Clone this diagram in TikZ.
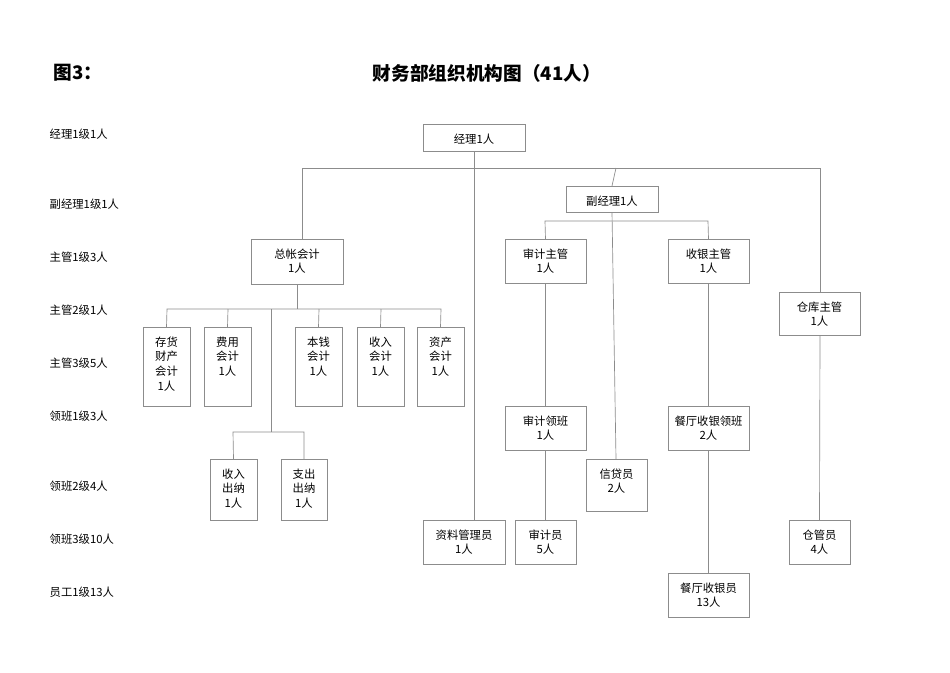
\documentclass[tikz,border=0pt]{standalone}
\usepackage{fontspec}
\setmainfont{Noto Sans CJK SC}
\begin{document}
\begin{tikzpicture}[x=0.75pt,y=-0.75pt,
  bx/.style={draw=black!45,line width=0.5pt,inner sep=0pt},
  ln/.style={draw=black!45,line width=0.5pt},
  tx/.style={font=\fontsize{8.5}{11}\selectfont,align=center,anchor=north},
  lb/.style={font=\fontsize{8.5}{11}\selectfont,anchor=west}]
\fill[white] (0,0) rectangle (950,672);
\useasboundingbox (0,0) rectangle (950,672);
\node[anchor=west,font=\fontsize{14}{16}\selectfont\bfseries] (fig) at (49,73) {图3：};
\node[font=\fontsize{14}{16}\selectfont\bfseries] (title) at (487,73) {财务部组织机构图（41人）};
\foreach \t/\y [count=\i] in {经理1级1人/134,副经理1级1人/204,主管1级3人/257,主管2级1人/310,主管3级5人/363,领班1级3人/416,领班2级4人/486,领班3级10人/539,员工1级13人/592}
  \node[lb] (L\i) at (45,\y) {\t};
% boxes: name/x1/y1/x2/y2/text
\foreach \n/\a/\b/\c/\d/\t in {
 jl/423/124/525/151/经理1人,
 fjl/566/186/658/212/副经理1人,
 zz/251/239/343/284/总帐会计\\1人,
 sjzg/505/239/586/283/审计主管\\1人,
 syzg/668/239/749/283/收银主管\\1人,
 ckzg/779/292/860/335/仓库主管\\1人,
 ch/143/327/190/406/存货\\财产\\会计\\1人,
 fy/204/327/251/406/费用\\会计\\1人,
 bq/295/327/342/406/本钱\\会计\\1人,
 srkj/357/327/404/406/收入\\会计\\1人,
 zc/417/327/464/406/资产\\会计\\1人,
 sjlb/505/406/586/450/审计领班\\1人,
 ctlb/668/406/749/450/餐厅收银领班\\2人,
 srcn/210/459/257/520/收入\\出纳\\1人,
 zccn/281/459/327/520/支出\\出纳\\1人,
 xdy/586/459/647/511/信贷员\\2人,
 zlgl/423/520/505/564/资料管理员\\1人,
 sjy/515/520/576/564/审计员\\5人,
 cgy/789/520/850/564/仓管员\\4人,
 ctsy/668/573/749/617/餐厅收银员\\13人}{
 \path[bx] (\a,\b) rectangle (\c,\d);
 \node[tx] (\n) at ({(\a+\c)/2},{\b+5}) {\t};
 \coordinate (\n-t) at ({(\a+\c)/2},\b);
 \coordinate (\n-b) at ({(\a+\c)/2},\d);
}
% connectors
\draw[ln] (474,151) -- (474,520);
\draw[ln] (302,239) -- (302,168) -- (820,168) -- (820,292);
\draw[ln] (820,335) -- (cgy-t);
\draw[ln] (616,168) -- (fjl-t);
\draw[ln] (fjl-b) -- (616,459);
\draw[ln] (sjzg-t) -- (545,221) -- (708,221) -- (syzg-t);
\draw[ln] (sjzg-b) -- (sjlb-t);
\draw[ln] (sjlb-b) -- (sjy-t);
\draw[ln] (syzg-b) -- (ctlb-t);
\draw[ln] (ctlb-b) -- (ctsy-t);
\draw[ln] (297,284) -- (297,309);
\draw[ln] (ch-t) -- (167,309) -- (441,309) -- (zc-t);
\draw[ln] (fy-t) -- (228,309);
\draw[ln] (bq-t) -- (319,309);
\draw[ln] (srkj-t) -- (381,309);
\draw[ln] (271,309) -- (271,432);
\draw[ln] (srcn-t) -- (233,432) -- (304,432) -- (zccn-t);
\end{tikzpicture}
\end{document}
